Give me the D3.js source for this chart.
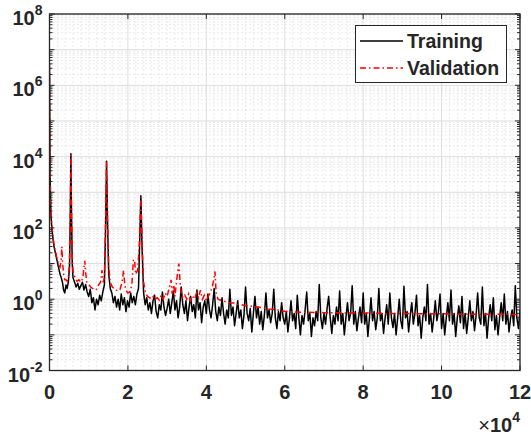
<!DOCTYPE html>
<html>
<head>
<meta charset="utf-8">
<script src="https://cdn.jsdelivr.net/npm/d3@7"></script>
<style>
  body { margin: 0; background: #fff; }
  text { font-family: "Liberation Sans", Arial, Helvetica, sans-serif; font-weight: bold; fill: #262626; }
</style>
</head>
<body>
<div id="chart"></div>
<script>
// Data: [iteration, loss]
const trainingLoss = [
  [0, 3.0e6], [50, 2e5], [100, 2e4], [150, 3000], [250, 600], [400, 200], [600, 100], [800, 60],
  [1000, 40], [1200, 28], [1500, 20], [1800, 14], [2100, 10], [2400, 7], [2700, 5], [3000, 4],
  [3300, 3], [3600, 1.8], [3900, 1.5], [4200, 2.5], [4500, 2.0], [4800, 3], [5100, 8], [5300, 200],
  [5450, 12000], [5600, 300], [5800, 10], [6000, 4], [6400, 3], [6800, 2.2], [7200, 2.8], [7600, 1.9],
  [8000, 2.4], [8400, 3.0], [8800, 1.8], [9200, 2.6], [9600, 1.6], [10000, 1.2], [10400, 1.9], [10800, 0.8],
  [11200, 1.1], [11600, 0.5], [12000, 1.0], [12400, 0.7], [12800, 1.3], [13200, 0.9], [13600, 1.6], [14000, 2.5],
  [14300, 100], [14550, 7400], [14800, 150], [15100, 5], [15500, 2], [15900, 1.5], [16300, 0.8], [16700, 1.2],
  [17100, 0.6], [17500, 1.0], [17900, 0.5], [18300, 1.4], [18700, 0.7], [19100, 1.1], [19500, 0.45], [19900, 0.9],
  [20300, 0.6], [20700, 1.5], [21100, 0.8], [21500, 1.2], [21900, 0.7], [22300, 1.4], [22700, 2], [23000, 40],
  [23300, 800], [23600, 30], [24000, 1.5], [24400, 0.7], [24800, 1.1], [25200, 0.5], [25600, 0.8], [26000, 0.4],
  [26400, 0.9], [26800, 1.3], [27200, 0.45], [27600, 0.3], [28000, 0.7], [28400, 0.5], [28800, 1.6], [29200, 0.6],
  [29600, 0.35], [30000, 0.55], [30400, 1.0], [30800, 0.4], [31200, 0.8], [31600, 1.7], [32000, 0.5], [32400, 0.9],
  [32800, 0.3], [33200, 0.6], [33600, 2.2], [34000, 0.7], [34400, 0.4], [34800, 0.9], [35200, 0.25], [35600, 0.6],
  [36000, 1.2], [36400, 0.45], [36800, 0.7], [37200, 0.3], [37600, 1.8], [38000, 0.5], [38400, 0.8], [38800, 0.22],
  [39200, 0.6], [39600, 0.9], [40000, 0.4], [40400, 1.4], [40800, 0.5], [41200, 0.3], [41600, 0.7], [42000, 2.0],
  [42400, 0.45], [42800, 0.25], [43200, 0.6], [43600, 0.35], [44000, 1.1], [44400, 0.4], [44800, 0.2], [45200, 0.5],
  [45600, 0.3], [46000, 1.9], [46400, 0.35], [46800, 0.6], [47200, 0.18], [47600, 0.4], [48000, 0.9], [48400, 0.3],
  [48800, 0.5], [49200, 0.15], [49600, 0.35], [50000, 2.2], [50400, 0.4], [50800, 0.25], [51200, 0.55], [51600, 0.12],
  [52000, 0.4], [52400, 1.2], [52800, 0.3], [53200, 0.6], [53600, 0.2], [54000, 0.45], [54400, 0.14], [54800, 0.35],
  [55200, 1.5], [55600, 0.3], [56000, 0.5], [56400, 0.22], [56800, 0.4], [57200, 1.9], [57600, 0.3], [58000, 0.15],
  [58400, 0.45], [58800, 0.25], [59200, 0.8], [59600, 0.3], [60000, 0.2], [60400, 0.45], [60800, 0.12], [61200, 0.3],
  [61600, 0.9], [62000, 0.25], [62400, 0.4], [62800, 0.15], [63200, 1.3], [63600, 0.3], [64000, 0.1], [64400, 0.35],
  [64800, 0.2], [65200, 0.5], [65600, 1.6], [66000, 0.25], [66400, 0.4], [66800, 0.09], [67200, 0.3], [67600, 0.18],
  [68000, 0.45], [68400, 0.25], [68800, 2.6], [69200, 0.3], [69600, 0.15], [70000, 0.4], [70400, 0.2], [70800, 0.55],
  [71200, 1.2], [71600, 0.3], [72000, 0.11], [72400, 0.35], [72800, 0.2], [73200, 0.6], [73600, 0.25], [74000, 1.7],
  [74400, 0.2], [74800, 0.4], [75200, 0.1], [75600, 0.3], [76000, 0.8], [76400, 0.25], [76800, 0.4], [77200, 2.4],
  [77600, 0.2], [78000, 0.45], [78400, 0.13], [78800, 0.3], [79200, 0.6], [79600, 0.22], [80000, 1.5], [80400, 0.2],
  [80800, 0.4], [81200, 0.09], [81600, 0.3], [82000, 1.1], [82400, 0.25], [82800, 0.45], [83200, 0.14], [83600, 0.3],
  [84000, 2.0], [84400, 0.25], [84800, 0.4], [85200, 0.11], [85600, 0.3], [86000, 0.7], [86400, 0.2], [86800, 1.5],
  [87200, 0.3], [87600, 0.16], [88000, 0.4], [88400, 0.1], [88800, 0.3], [89200, 1.0], [89600, 0.25], [90000, 0.15],
  [90400, 2.3], [90800, 0.3], [91200, 0.45], [91600, 0.12], [92000, 0.35], [92400, 0.8], [92800, 0.2], [93200, 0.4],
  [93600, 1.3], [94000, 0.18], [94400, 0.35], [94800, 0.08], [95200, 0.3], [95600, 0.6], [96000, 0.25], [96400, 2.6],
  [96800, 0.2], [97200, 0.4], [97600, 0.12], [98000, 0.3], [98400, 0.9], [98800, 0.25], [99200, 0.45], [99600, 1.4],
  [100000, 0.15], [100400, 0.4], [100800, 0.1], [101200, 0.3], [101600, 0.8], [102000, 0.25], [102400, 1.8], [102800, 0.2],
  [103200, 0.4], [103600, 0.09], [104000, 0.3], [104400, 0.65], [104800, 0.22], [105200, 1.2], [105600, 0.15], [106000, 0.4],
  [106400, 0.11], [106800, 0.3], [107200, 0.9], [107600, 0.25], [108000, 0.45], [108400, 0.13], [108800, 0.35], [109200, 1.5],
  [109600, 0.3], [110000, 0.2], [110400, 2.2], [110800, 0.18], [111200, 0.4], [111600, 0.08], [112000, 0.3], [112400, 0.7],
  [112800, 0.25], [113200, 1.1], [113600, 0.14], [114000, 0.35], [114400, 0.1], [114800, 0.3], [115200, 0.8], [115600, 0.25],
  [116000, 1.4], [116400, 0.2], [116800, 0.45], [117200, 0.12], [117600, 0.3], [118000, 0.5], [118400, 0.18], [118800, 2.4],
  [119200, 0.3], [119600, 0.15], [120000, 0.5]
];

const validationLoss = [
  [0, 4e6], [50, 3e5], [100, 3e4], [150, 4000], [250, 800], [400, 250], [600, 120], [800, 70],
  [1000, 45], [1200, 32], [1500, 22], [1800, 16], [2100, 12], [2400, 9], [2700, 8], [3000, 14],
  [3150, 30], [3300, 12], [3600, 5], [3900, 3.5], [4200, 3.5], [4500, 3.2], [4800, 4], [5100, 10],
  [5300, 250], [5450, 11000], [5600, 400], [5800, 15], [6000, 6], [6500, 4], [7000, 3.2], [7500, 3.5],
  [8000, 3], [8500, 4], [9000, 12], [9200, 6], [9500, 3], [10000, 2.6], [10500, 2.2], [11000, 2],
  [11500, 1.8], [12000, 1.9], [12500, 2.5], [13000, 3], [13400, 6.5], [13700, 3], [14000, 4], [14300, 120],
  [14550, 7000], [14800, 180], [15100, 8], [15500, 3], [16000, 2.2], [16500, 2], [17000, 1.8], [17500, 1.7],
  [18000, 1.9], [18500, 3], [18900, 6.5], [19200, 2.5], [19500, 1.8], [20000, 1.5], [20500, 1.6], [21000, 2.5],
  [21400, 13], [21700, 12], [22000, 5], [22500, 6.6], [23000, 50], [23300, 750], [23600, 40], [24000, 3],
  [24500, 1.5], [25000, 1.2], [25500, 1.1], [26000, 1.0], [26500, 1.2], [27000, 1.0], [27500, 1.1], [28000, 0.95],
  [28500, 1.3], [29000, 1.0], [29500, 1.5], [30000, 1.2], [30500, 2], [31000, 3.5], [31300, 1.4], [31700, 2.5],
  [32000, 1.2], [32500, 4], [33000, 10], [33300, 3], [33600, 1.5], [34000, 1.1], [34500, 1.3], [35000, 1.0],
  [35500, 1.4], [36000, 0.9], [36500, 1.2], [37000, 1.0], [37500, 1.5], [38000, 1.1], [38500, 1.8], [39000, 1.0],
  [39500, 1.3], [40000, 0.9], [40500, 1.2], [41000, 1.5], [41500, 2.2], [42000, 4], [42200, 6], [42500, 1.5],
  [43000, 1.0], [44000, 0.9], [45000, 0.85], [46000, 0.8], [47000, 0.78], [48000, 0.72], [49000, 0.7], [50000, 0.66],
  [51000, 0.65], [52000, 0.62], [53000, 0.6], [54000, 0.58], [55000, 0.55], [56000, 0.53], [57000, 0.52], [58000, 0.5],
  [59000, 0.48], [60000, 0.46], [62000, 0.44], [65000, 0.43], [70000, 0.42], [75000, 0.41], [80000, 0.41], [85000, 0.40],
  [90000, 0.40], [95000, 0.39], [100000, 0.39], [105000, 0.38], [110000, 0.38], [115000, 0.38], [120000, 0.37]
];

const xTicks = [0, 20000, 40000, 60000, 80000, 100000, 120000];
const xTickLabels = ["0", "2", "4", "6", "8", "10", "12"];
const yExponents = [-2, 0, 2, 4, 6, 8];
const seriesNames = ["Training", "Validation"];

const width = 531;
const height = 437;
const margin = { left: 49.5, right: 11, top: 14, bottom: 66.5 };
const plotW = width - margin.left - margin.right;
const plotH = height - margin.top - margin.bottom;
const axisColor = "#262626";

const svg = d3.select("#chart").append("svg")
  .attr("width", width)
  .attr("height", height);

const x = d3.scaleLinear().domain([0, 120000]).range([margin.left, margin.left + plotW]);
const y = d3.scaleLog().domain([1e-2, 1e8]).range([margin.top + plotH, margin.top]);

const x0 = x.range()[0], x1 = x.range()[1];
const y0 = y.range()[0], y1 = y.range()[1];

// grille mineure / majeure
const grid = svg.append("g");
const minorY = [];
for (let k = -2; k < 8; k++) for (let m = 2; m <= 9; m++) minorY.push(m * Math.pow(10, k));
const majorY = d3.range(-2, 9).map(k => Math.pow(10, k));
const minorX = d3.range(0, 120001, 2000).filter(v => v % 20000 !== 0);

grid.selectAll(".mx").data(minorX).join("line")
  .attr("x1", d => x(d)).attr("x2", d => x(d)).attr("y1", y0).attr("y2", y1)
  .attr("stroke", "#cccccc").attr("stroke-width", 0.8).attr("stroke-dasharray", "1,3");
grid.selectAll(".my").data(minorY).join("line")
  .attr("x1", x0).attr("x2", x1).attr("y1", d => y(d)).attr("y2", d => y(d))
  .attr("stroke", "#cccccc").attr("stroke-width", 0.8).attr("stroke-dasharray", "1,3");
grid.selectAll(".gx").data(xTicks).join("line")
  .attr("x1", d => x(d)).attr("x2", d => x(d)).attr("y1", y0).attr("y2", y1)
  .attr("stroke", "#dedede").attr("stroke-width", 1);
grid.selectAll(".gy").data(majorY).join("line")
  .attr("x1", x0).attr("x2", x1).attr("y1", d => y(d)).attr("y2", d => y(d))
  .attr("stroke", "#dedede").attr("stroke-width", 1);

// courbes
svg.append("clipPath").attr("id", "clip")
  .append("rect").attr("x", x0).attr("y", y1).attr("width", plotW).attr("height", plotH);

const line = d3.line().x(d => x(d[0])).y(d => y(d[1]));

svg.append("path")
  .datum(trainingLoss)
  .attr("clip-path", "url(#clip)")
  .attr("fill", "none")
  .attr("stroke", "#000")
  .attr("stroke-width", 1.5)
  .attr("stroke-linejoin", "round")
  .attr("d", line);

svg.append("path")
  .datum(validationLoss)
  .attr("clip-path", "url(#clip)")
  .attr("fill", "none")
  .attr("stroke", "#ff0000")
  .attr("stroke-width", 1.5)
  .attr("stroke-dasharray", "6,3,1.5,3")
  .attr("d", line);

// axes (boîte + ticks vers l'intérieur)
const axes = svg.append("g").attr("stroke", axisColor);
axes.append("rect")
  .attr("x", x0).attr("y", y1).attr("width", plotW).attr("height", plotH)
  .attr("fill", "none").attr("stroke-width", 1.3);

xTicks.forEach(v => {
  axes.append("line").attr("x1", x(v)).attr("x2", x(v)).attr("y1", y0).attr("y2", y0 - 5);
  axes.append("line").attr("x1", x(v)).attr("x2", x(v)).attr("y1", y1).attr("y2", y1 + 5);
});
majorY.forEach(v => {
  axes.append("line").attr("x1", x0).attr("x2", x0 + 5).attr("y1", y(v)).attr("y2", y(v));
  axes.append("line").attr("x1", x1).attr("x2", x1 - 5).attr("y1", y(v)).attr("y2", y(v));
});
minorY.forEach(v => {
  axes.append("line").attr("x1", x0).attr("x2", x0 + 3).attr("y1", y(v)).attr("y2", y(v));
  axes.append("line").attr("x1", x1).attr("x2", x1 - 3).attr("y1", y(v)).attr("y2", y(v));
});

// labels
svg.selectAll(".xl").data(xTicks).join("text")
  .attr("x", d => x(d))
  .attr("y", y0 + 28)
  .attr("text-anchor", "middle")
  .style("font-size", "20px")
  .text((d, i) => xTickLabels[i]);

const yl = svg.selectAll(".yl").data(yExponents).join("text")
  .attr("x", x0 - 7)
  .attr("y", d => y(Math.pow(10, d)) + 11)
  .attr("text-anchor", "end")
  .style("font-size", "20px");
yl.append("tspan").text("10");
yl.append("tspan").attr("dy", -10).style("font-size", "14px").text(d => d < 0 ? "-" + (-d) : d);

const mult = svg.append("text")
  .attr("x", x1)
  .attr("y", 432)
  .attr("text-anchor", "end")
  .style("font-size", "20px");
mult.append("tspan").style("font-weight", "normal").text("\u00d7");
mult.append("tspan").text("10");
mult.append("tspan").attr("dy", -10).style("font-size", "14px").text("4");

// légende
const legend = svg.append("g");
legend.append("rect")
  .attr("x", 355.5).attr("y", 25.5).attr("width", 151).attr("height", 57)
  .attr("fill", "#fff").attr("stroke", axisColor).attr("stroke-width", 1);
const legY = [41, 68];
legend.selectAll(".ll").data(seriesNames).join("line")
  .attr("x1", 360).attr("x2", 403)
  .attr("y1", (d, i) => legY[i]).attr("y2", (d, i) => legY[i])
  .attr("stroke", (d, i) => i === 0 ? "#000" : "#ff0000")
  .attr("stroke-width", 1.5)
  .attr("stroke-dasharray", (d, i) => i === 0 ? null : "6,3,1.5,3");
legend.selectAll(".lt").data(seriesNames).join("text")
  .attr("x", 407)
  .attr("y", (d, i) => legY[i] + 7)
  .style("font-size", "19.5px")
  .text(d => d);
</script>
</body>
</html>
